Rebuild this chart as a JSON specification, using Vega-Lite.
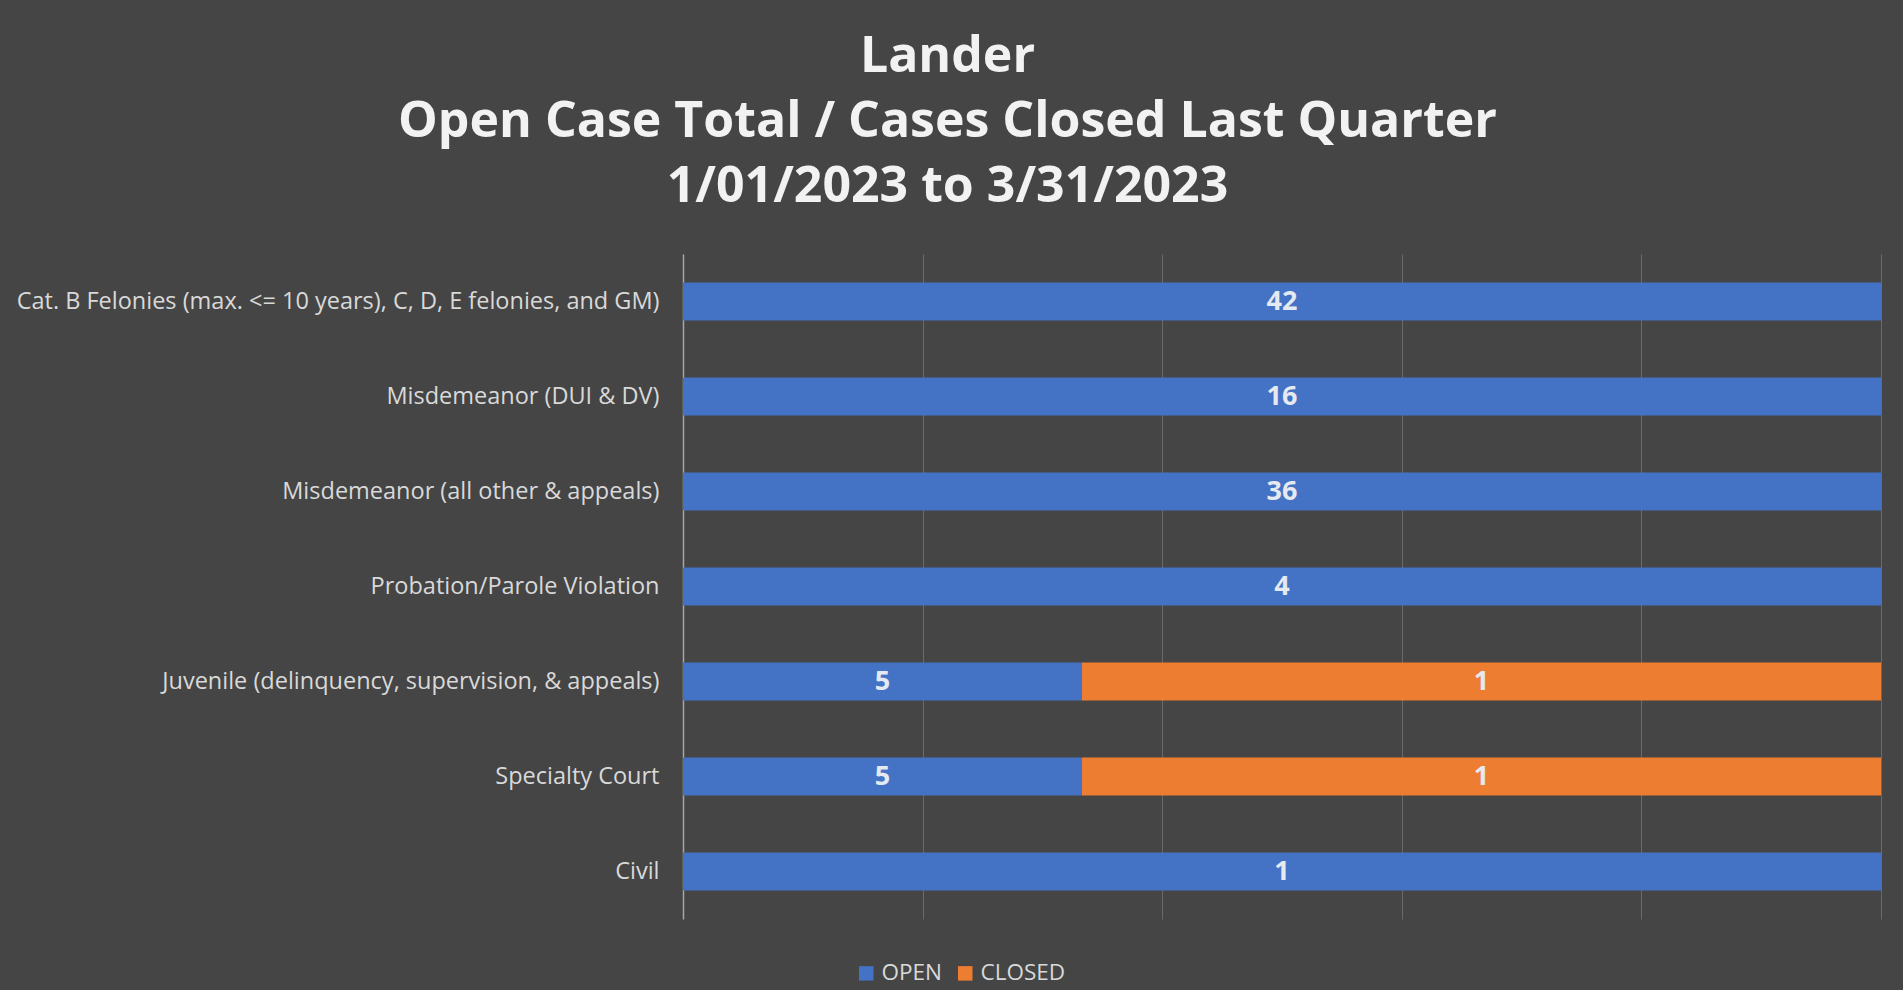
{
  "$schema": "https://vega.github.io/schema/vega-lite/v6.json",
  "width": 1198,
  "height": 665,
  "padding": {"left": 14, "top": 32, "right": 22, "bottom": 5},
  "background": "#454545",
  "config": {
    "view": {"stroke": null}
  },
  "title": {
    "text": ["Lander", "Open Case Total / Cases Closed Last Quarter", "1/01/2023 to 3/31/2023"],
    "font": "Open Sans",
    "fontSize": 50,
    "fontWeight": "bold",
    "color": "#f2f2f2",
    "lineHeight": 65,
    "anchor": "middle",
    "frame": "bounds",
    "offset": 42
  },
  "data": {
    "values": [
      {"category": "Cat. B Felonies (max. <= 10 years), C, D, E felonies, and GM)", "status": "OPEN", "share": 1, "count": 42},
      {"category": "Misdemeanor (DUI & DV)", "status": "OPEN", "share": 1, "count": 16},
      {"category": "Misdemeanor (all other & appeals)", "status": "OPEN", "share": 1, "count": 36},
      {"category": "Probation/Parole Violation", "status": "OPEN", "share": 1, "count": 4},
      {"category": "Juvenile (delinquency, supervision, & appeals)", "status": "OPEN", "share": 0.333, "count": 5},
      {"category": "Juvenile (delinquency, supervision, & appeals)", "status": "CLOSED", "share": 0.667, "count": 1},
      {"category": "Specialty Court", "status": "OPEN", "share": 0.333, "count": 5},
      {"category": "Specialty Court", "status": "CLOSED", "share": 0.667, "count": 1},
      {"category": "Civil", "status": "OPEN", "share": 1, "count": 1}
    ]
  },
  "encoding": {
    "y": {
      "field": "category",
      "type": "nominal",
      "sort": null,
      "scale": {"paddingInner": 0.6, "paddingOuter": 0.3},
      "axis": {
        "title": null,
        "ticks": false,
        "labelFont": "Open Sans",
        "labelFontSize": 23.5,
        "labelColor": "#d9d9d9",
        "labelPadding": 24,
        "labelLimit": 1000,
        "domainColor": "#a6a6a6",
        "domainWidth": 1.5,
        "minExtent": 669,
        "maxExtent": 669
      }
    },
    "x": {
      "field": "share",
      "type": "quantitative",
      "stack": "zero",
      "scale": {"domain": [0, 1], "nice": false},
      "axis": {
        "title": null,
        "labels": false,
        "ticks": false,
        "domain": false,
        "grid": true,
        "gridColor": "#6a6a6a",
        "gridWidth": 1,
        "values": [0, 0.2, 0.4, 0.6, 0.8, 1]
      }
    },
    "order": {"field": "status", "sort": "descending"}
  },
  "layer": [
    {
      "mark": {"type": "bar"},
      "encoding": {
        "color": {
          "field": "status",
          "type": "nominal",
          "scale": {"domain": ["OPEN", "CLOSED"], "range": ["#4472C4", "#ED7D31"]},
          "legend": {
            "title": null,
            "orient": "none",
            "legendX": 172,
            "legendY": 708,
            "padding": 0,
            "direction": "horizontal",
            "symbolType": "square",
            "symbolSize": 210,
            "symbolStrokeWidth": 0,
            "labelFont": "Open Sans",
            "labelFontSize": 22.5,
            "labelColor": "#d9d9d9",
            "labelOffset": 4,
            "columnPadding": 12
          }
        }
      }
    },
    {
      "mark": {"type": "text", "font": "Open Sans", "fontSize": 27, "fontWeight": "bold", "color": "#e4e9f2", "align": "center", "baseline": "middle"},
      "encoding": {
        "x": {"field": "share", "type": "quantitative", "stack": "zero", "bandPosition": 0.5},
        "text": {"field": "count", "type": "quantitative"}
      }
    }
  ]
}
